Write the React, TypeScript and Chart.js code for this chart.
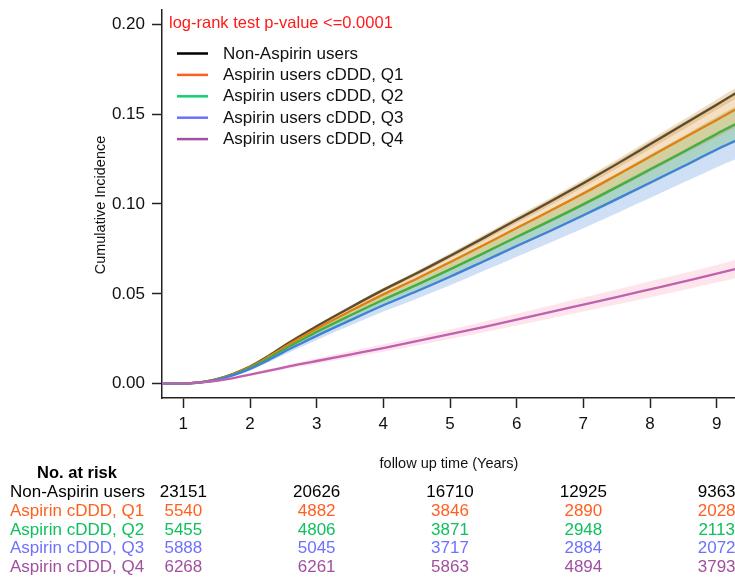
import React, { useEffect, useRef } from "react";
import { Chart, registerables } from "chart.js";

Chart.register(...registerables);

// ---------- data ----------
const times = [0, 1.0, 1.1, 1.3, 1.5, 1.75, 2.0, 2.25, 2.5, 2.75, 3.0, 3.5, 4.0, 4.5, 5.0, 5.5, 6.0, 6.5, 7.0, 7.5, 8.0, 8.5, 9.0, 9.3];

const nonAspirin = [0, 0, 0.0003, 0.001, 0.0025, 0.0055, 0.0095, 0.0148, 0.0208, 0.0265, 0.032, 0.0423, 0.0522, 0.0614, 0.0711, 0.081, 0.0912, 0.1012, 0.1115, 0.1222, 0.1332, 0.1442, 0.1553, 0.162];
const q1 = [0, 0, 0.0003, 0.001, 0.0024, 0.0053, 0.0092, 0.0143, 0.02, 0.0254, 0.0306, 0.0403, 0.0497, 0.0584, 0.0676, 0.077, 0.0866, 0.0961, 0.1058, 0.116, 0.1263, 0.1366, 0.1468, 0.153];
const q2 = [0, 0, 0.0002, 0.0009, 0.0023, 0.0051, 0.0088, 0.0136, 0.0189, 0.0239, 0.0288, 0.0379, 0.0467, 0.055, 0.0636, 0.0725, 0.0816, 0.0906, 0.0998, 0.1094, 0.1192, 0.129, 0.139, 0.1447];
const q3 = [0, 0, 0.0002, 0.0008, 0.0021, 0.0047, 0.0082, 0.0126, 0.0175, 0.0221, 0.0266, 0.0352, 0.0436, 0.0514, 0.0595, 0.068, 0.0766, 0.085, 0.0937, 0.1027, 0.1118, 0.121, 0.1303, 0.1355];
const q4 = [0, 0, 0.0002, 0.0008, 0.0016, 0.0031, 0.005, 0.007, 0.0089, 0.0108, 0.0126, 0.0162, 0.0198, 0.0236, 0.0275, 0.0315, 0.0356, 0.0398, 0.044, 0.0482, 0.0525, 0.0568, 0.0612, 0.064];

// half-widths of the 95% confidence bands
const hwNonAspirin = [0, 0, 0, 0.0001, 0.0001, 0.0002, 0.0003, 0.0004, 0.0005, 0.0006, 0.0007, 0.0009, 0.0011, 0.0013, 0.0015, 0.0017, 0.0019, 0.002, 0.0022, 0.0024, 0.0026, 0.0027, 0.0029, 0.003];
const hwQ1 = [0, 0, 0.0001, 0.0002, 0.0004, 0.0007, 0.001, 0.0013, 0.0017, 0.002, 0.0023, 0.0029, 0.0035, 0.004, 0.0046, 0.0052, 0.0058, 0.0064, 0.007, 0.0076, 0.0083, 0.0089, 0.0096, 0.01];
const hwQ2 = [0, 0, 0.0001, 0.0002, 0.0004, 0.0007, 0.001, 0.0013, 0.0017, 0.002, 0.0023, 0.0029, 0.0035, 0.004, 0.0046, 0.0052, 0.0058, 0.0064, 0.007, 0.0076, 0.0083, 0.0089, 0.0096, 0.01];
const hwQ3 = [0, 0, 0.0001, 0.0002, 0.0004, 0.0007, 0.001, 0.0013, 0.0017, 0.002, 0.0023, 0.0029, 0.0035, 0.0041, 0.0047, 0.0053, 0.0059, 0.0066, 0.0072, 0.0078, 0.0085, 0.0091, 0.0098, 0.0103];
const hwQ4 = [0, 0, 0.0001, 0.0002, 0.0003, 0.0005, 0.0007, 0.0009, 0.0011, 0.0013, 0.0015, 0.0018, 0.0021, 0.0024, 0.0027, 0.003, 0.0033, 0.0036, 0.0039, 0.0042, 0.0045, 0.0047, 0.0049, 0.0051];

const legendNames = ["Non-Aspirin users", "Aspirin users cDDD, Q1", "Aspirin users cDDD, Q2", "Aspirin users cDDD, Q3", "Aspirin users cDDD, Q4"];
const riskRowLabels = ["Non-Aspirin users", "Aspirin cDDD, Q1", "Aspirin cDDD, Q2", "Aspirin cDDD, Q3", "Aspirin cDDD, Q4"];

const riskTimes = [1, 3, 5, 7, 9];
const riskNonAspirin = [23151, 20626, 16710, 12925, 9363];
const riskQ1 = [5540, 4882, 3846, 2890, 2028];
const riskQ2 = [5455, 4806, 3871, 2948, 2113];
const riskQ3 = [5888, 5045, 3717, 2884, 2072];
const riskQ4 = [6268, 6261, 5863, 4894, 3793];

const xTicks = [1, 2, 3, 4, 5, 6, 7, 8, 9];
const yTicks = [0, 0.05, 0.1, 0.15, 0.2];

const pValueText = "log-rank test p-value <=0.0001";
const xTitle = "follow up time (Years)";
const yTitle = "Cumulative Incidence";
const riskTitle = "No. at risk";

// ---------- styles ----------
const FONT = '"Liberation Sans", Arial, Helvetica, sans-serif';
const lineColors = ["#5c4b2e", "#e08010", "#40b040", "#4080d8", "#c060b0"];
const legendColors = ["#000000", "#ff6020", "#10d070", "#7070ff", "#a050a0"];
const tableColors = ["#000000", "#ff6020", "#10c060", "#7070ff", "#a050a0"];
const bandColors = [
  "rgba(185,130,30,0.25)",
  "rgba(224,128,16,0.25)",
  "rgba(64,176,64,0.25)",
  "rgba(64,128,216,0.25)",
  "rgba(250,150,180,0.25)",
];

const series = [nonAspirin, q1, q2, q3, q4];
const halfWidths = [hwNonAspirin, hwQ1, hwQ2, hwQ3, hwQ4];
const riskRows = [riskNonAspirin, riskQ1, riskQ2, riskQ3, riskQ4];

const overlayPlugin = {
  id: "overlay",
  afterDraw(chart: any) {
    const ctx: CanvasRenderingContext2D = chart.ctx;
    const xs = chart.scales.x;
    const area = chart.chartArea;
    ctx.save();

    // p-value text
    ctx.font = `16.5px ${FONT}`;
    ctx.fillStyle = "#ff1a1a";
    ctx.textAlign = "left";
    ctx.textBaseline = "middle";
    ctx.fillText(pValueText, 169, 23);

    // legend
    const legendY0 = 53.5;
    const legendStep = 21.4;
    ctx.font = `17px ${FONT}`;
    legendNames.forEach((name, i) => {
      const y = legendY0 + i * legendStep;
      ctx.strokeStyle = legendColors[i];
      ctx.lineWidth = 2.5;
      ctx.beginPath();
      ctx.moveTo(177, y);
      ctx.lineTo(208, y);
      ctx.stroke();
      ctx.fillStyle = "#111";
      ctx.fillText(name, 223, y + 0.5);
    });

    // axis titles
    ctx.font = `14.5px ${FONT}`;
    ctx.fillStyle = "#111";
    ctx.textAlign = "center";
    ctx.fillText(xTitle, 449, 464);
    ctx.save();
    ctx.translate(101, (area.top + area.bottom) / 2 + 1);
    ctx.rotate(-Math.PI / 2);
    ctx.fillText(yTitle, 0, 0);
    ctx.restore();

    // risk table
    ctx.font = `bold 16.5px ${FONT}`;
    ctx.fillStyle = "#000";
    ctx.textAlign = "center";
    ctx.fillText(riskTitle, 77, 473);
    const rowY0 = 492.5;
    const rowStep = 18.7;
    riskRows.forEach((row, i) => {
      const y = rowY0 + i * rowStep;
      ctx.font = `17px ${FONT}`;
      ctx.fillStyle = tableColors[i];
      ctx.textAlign = "left";
      ctx.fillText(riskRowLabels[i], 10, y);
      ctx.textAlign = "center";
      row.forEach((n, j) => {
        ctx.fillText(String(n), xs.getPixelForValue(riskTimes[j]), y);
      });
    });

    ctx.restore();
  },
};

export default function App() {
  const canvasRef = useRef<HTMLCanvasElement | null>(null);

  useEffect(() => {
    document.body.style.margin = "0";
    const canvas = canvasRef.current;
    if (!canvas) return;

    const datasets: any[] = [];
    series.forEach((vals, i) => {
      const hw = halfWidths[i];
      datasets.push({
        data: times.map((t, k) => ({ x: t, y: vals[k] - hw[k] })),
        borderWidth: 0,
        pointRadius: 0,
        fill: false,
        cubicInterpolationMode: "monotone",
        order: 10,
      });
      datasets.push({
        data: times.map((t, k) => ({ x: t, y: vals[k] + hw[k] })),
        borderWidth: 0,
        pointRadius: 0,
        fill: "-1",
        backgroundColor: bandColors[i],
        cubicInterpolationMode: "monotone",
        order: 10,
      });
    });
    series.forEach((vals, i) => {
      datasets.push({
        label: legendNames[i],
        data: times.map((t, k) => ({ x: t, y: vals[k] })),
        borderColor: lineColors[i],
        borderWidth: 2.3,
        pointRadius: 0,
        fill: false,
        cubicInterpolationMode: "monotone",
        order: 5 - i,
      });
    });

    const tickFont = { family: FONT, size: 17 };
    const chart = new Chart(canvas, {
      type: "line",
      data: { datasets },
      options: {
        responsive: false,
        animation: false,
        devicePixelRatio: 1,
        layout: { padding: { left: 102, top: 10, right: 0, bottom: 0 } },
        plugins: { legend: { display: false }, tooltip: { enabled: false } },
        scales: {
          x: {
            type: "linear",
            min: 0.68,
            max: 9.275,
            afterBuildTicks: (s: any) => {
              s.ticks = xTicks.map((v) => ({ value: v }));
            },
            afterFit: (s: any) => {
              s.height = 180;
              s.paddingLeft = 0;
              s.paddingRight = 0;
            },
            grid: { drawOnChartArea: false, drawTicks: true, tickLength: 10, tickColor: "#222", tickWidth: 1.5 },
            border: { display: true, color: "#222", width: 1.5 },
            ticks: {
              autoSkip: false,
              maxRotation: 0,
              padding: 6,
              color: "#111",
              font: tickFont,
              callback: (v: any) => String(v),
            },
          },
          y: {
            type: "linear",
            min: -0.008,
            max: 0.208,
            afterBuildTicks: (s: any) => {
              s.ticks = yTicks.map((v) => ({ value: v }));
            },
            afterFit: (s: any) => {
              s.width = 60;
              s.paddingTop = 0;
              s.paddingBottom = 0;
            },
            grid: { drawOnChartArea: false, drawTicks: true, tickLength: 10, tickColor: "#222", tickWidth: 1.5 },
            border: { display: true, color: "#222", width: 1.5 },
            ticks: {
              padding: 7,
              color: "#111",
              font: tickFont,
              callback: (v: any) => Number(v).toFixed(2),
            },
          },
        },
      } as any,
      plugins: [overlayPlugin],
    });

    return () => chart.destroy();
  }, []);

  return (
    <div style={{ position: "relative", width: 735, height: 578, background: "#fff" }}>
      <canvas ref={canvasRef} width={735} height={578} style={{ display: "block", width: 735, height: 578 }} />
    </div>
  );
}
